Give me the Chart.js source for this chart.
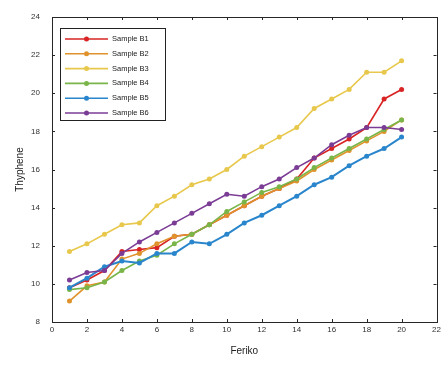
<!DOCTYPE html>
<html>
<head>
<meta charset="utf-8">
<script src="https://cdn.jsdelivr.net/npm/chart.js@4"></script>
<style>
  body { margin: 0; background: #fff; }
</style>
</head>
<body>
<canvas id="myChart" width="444" height="367"></canvas>
<script>
// datos
var periods = [1, 2, 3, 4, 5, 6, 7, 8, 9, 10, 11, 12, 13, 14, 15, 16, 17, 18, 19, 20];
var seriesNames = ['Sample B1', 'Sample B2', 'Sample B3', 'Sample B4', 'Sample B5', 'Sample B6'];
var sampleB1 = [9.8, 10.2, 10.7, 11.7, 11.8, 11.9, 12.5, 12.6, 13.1, 13.6, 14.1, 14.6, 15.0, 15.5, 16.6, 17.1, 17.6, 18.2, 19.7, 20.2];
var sampleB2 = [9.1, 9.9, 10.1, 11.3, 11.6, 12.1, 12.5, 12.6, 13.1, 13.6, 14.1, 14.6, 15.0, 15.4, 16.0, 16.5, 17.0, 17.5, 18.0, 18.6];
var sampleB3 = [11.7, 12.1, 12.6, 13.1, 13.2, 14.1, 14.6, 15.2, 15.5, 16.0, 16.7, 17.2, 17.7, 18.2, 19.2, 19.7, 20.2, 21.1, 21.1, 21.7];
var sampleB4 = [9.7, 9.8, 10.1, 10.7, 11.2, 11.5, 12.1, 12.6, 13.1, 13.8, 14.3, 14.8, 15.1, 15.5, 16.1, 16.6, 17.1, 17.6, 18.1, 18.6];
var sampleB5 = [9.8, 10.3, 10.9, 11.2, 11.1, 11.6, 11.6, 12.2, 12.1, 12.6, 13.2, 13.6, 14.1, 14.6, 15.2, 15.6, 16.2, 16.7, 17.1, 17.7];
var sampleB6 = [10.2, 10.6, 10.7, 11.6, 12.2, 12.7, 13.2, 13.7, 14.2, 14.7, 14.6, 15.1, 15.5, 16.1, 16.6, 17.3, 17.8, 18.2, 18.2, 18.1];
var xTicks = [0, 2, 4, 6, 8, 10, 12, 14, 16, 18, 20, 22];
var yTicks = [8, 10, 12, 14, 16, 18, 20, 22, 24];

var allSeries = [sampleB1, sampleB2, sampleB3, sampleB4, sampleB5, sampleB6];
var colors = ['#d82424', '#e0932c', '#e8c84c', '#79b548', '#2a86cc', '#7b3c96'];

function toPoints(values) {
  return values.map(function (v, i) { return { x: periods[i], y: v }; });
}

var datasets = allSeries.map(function (values, i) {
  return {
    label: seriesNames[i],
    data: toPoints(values),
    borderColor: colors[i],
    backgroundColor: colors[i],
    borderWidth: i === 4 ? 2 : 1.6,
    pointRadius: 2.5,
    pointStyle: 'circle',
    pointBorderWidth: 0,
    order: allSeries.length - i   // la ultima serie queda encima
  };
});

// marco, ticks internos y leyenda dentro del area
var framePlugin = {
  id: 'frame',
  afterDraw: function (chart) {
    var ctx = chart.ctx, a = chart.chartArea;
    var sx = chart.scales.x, sy = chart.scales.y;
    ctx.save();
    ctx.strokeStyle = '#262626';
    ctx.lineWidth = 1;
    ctx.strokeRect(Math.round(a.left) + 0.5, Math.round(a.top) + 0.5, Math.round(a.width), Math.round(a.height));
    ctx.beginPath();
    xTicks.forEach(function (v) {
      var px = Math.round(sx.getPixelForValue(v)) + 0.5;
      ctx.moveTo(px, a.bottom); ctx.lineTo(px, a.bottom - 3);
      ctx.moveTo(px, a.top); ctx.lineTo(px, a.top + 3);
    });
    yTicks.forEach(function (v) {
      var py = Math.round(sy.getPixelForValue(v)) + 0.5;
      ctx.moveTo(a.left, py); ctx.lineTo(a.left + 3, py);
      ctx.moveTo(a.right, py); ctx.lineTo(a.right - 3, py);
    });
    ctx.stroke();

    // leyenda
    var lx = a.left + 8, ly = a.top + 11, rowH = 14.8;
    ctx.fillStyle = '#fff';
    ctx.fillRect(lx, ly, 105, 92);
    ctx.strokeStyle = '#222';
    ctx.strokeRect(lx + 0.5, ly + 0.5, 105, 92);
    ctx.font = '7.5px "Liberation Sans", Arial, sans-serif';
    ctx.textBaseline = 'middle';
    chart.data.datasets.forEach(function (ds, i) {
      var yy = ly + 11 + i * rowH;
      ctx.strokeStyle = ds.borderColor;
      ctx.lineWidth = 1.6;
      ctx.beginPath();
      ctx.moveTo(lx + 5, yy); ctx.lineTo(lx + 48, yy);
      ctx.stroke();
      ctx.fillStyle = ds.borderColor;
      ctx.beginPath();
      ctx.arc(lx + 26.5, yy, 2.5, 0, Math.PI * 2);
      ctx.fill();
      ctx.fillStyle = '#222';
      ctx.fillText(ds.label, lx + 52, yy);
    });
    ctx.restore();
  }
};

var ctx = document.getElementById('myChart').getContext('2d');
var chart = new Chart(ctx, {
  type: 'line',
  data: { datasets: datasets },
  plugins: [framePlugin],
  options: {
    responsive: false,
    animation: false,
    layout: { padding: { top: 17, right: 4, left: 0, bottom: 0 } },
    plugins: {
      legend: { display: false },
      tooltip: { enabled: false }
    },
    scales: {
      x: {
        type: 'linear',
        min: 0, max: 22,
        afterBuildTicks: function (s) { s.ticks = xTicks.map(function (v) { return { value: v }; }); },
        afterFit: function (s) { s.height = 45; },
        grid: { display: false, drawTicks: false },
        border: { display: false },
        ticks: { color: '#333', font: { size: 8, family: '"Liberation Sans", Arial, sans-serif' }, padding: 3, maxRotation: 0 },
        title: { display: true, text: 'Feriko', color: '#222', padding: { top: 4, bottom: 10 },
                 font: { size: 10, family: '"Liberation Sans", Arial, sans-serif' } }
      },
      y: {
        type: 'linear',
        min: 8, max: 24,
        afterBuildTicks: function (s) { s.ticks = yTicks.map(function (v) { return { value: v }; }); },
        afterFit: function (s) { s.width = 52; },
        grid: { display: false, drawTicks: false },
        border: { display: false },
        ticks: { color: '#333', font: { size: 8, family: '"Liberation Sans", Arial, sans-serif' }, padding: 12 },
        title: { display: true, text: 'Thyphene', color: '#222', padding: { top: 14, bottom: 0 },
                 font: { size: 10, family: '"Liberation Sans", Arial, sans-serif' } }
      }
    }
  }
});
</script>
</body>
</html>
